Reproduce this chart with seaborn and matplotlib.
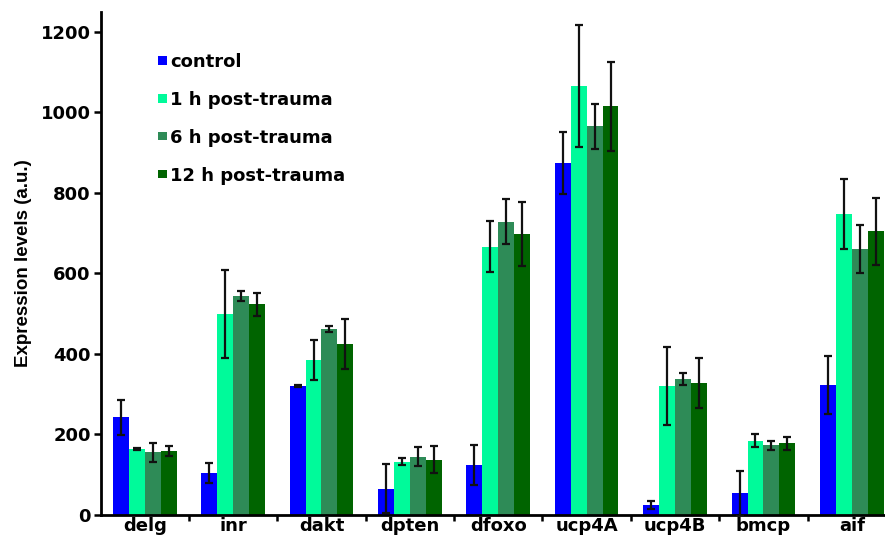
import numpy as np
import pandas as pd
import matplotlib
matplotlib.use("Agg")
import matplotlib.pyplot as plt
import seaborn as sns
from matplotlib.patches import Patch

genes = ["delg", "inr", "dakt", "dpten", "dfoxo", "ucp4A", "ucp4B", "bmcp", "aif"]
conditions = ["control", "1 h post-trauma", "6 h post-trauma", "12 h post-trauma"]
colors = ["#0000FF", "#00FA9A", "#2E8B57", "#006400"]

control = [242, 104, 320, 65, 123, 875, 24, 53, 322]
h1 = [163, 499, 385, 132, 666, 1066, 319, 184, 747]
h6 = [155, 544, 461, 144, 728, 965, 337, 173, 660]
h12 = [159, 523, 424, 137, 697, 1015, 327, 177, 704]

control_err = [44, 24, 2, 60, 50, 77, 10, 55, 72]
h1_err = [3, 110, 50, 9, 63, 152, 97, 16, 87]
h6_err = [24, 12, 7, 23, 56, 56, 14, 11, 60]
h12_err = [12, 28, 62, 33, 79, 111, 62, 17, 84]

means = [control, h1, h6, h12]
errs = [control_err, h1_err, h6_err, h12_err]

df = pd.DataFrame({
    "gene": np.tile(genes, len(conditions)),
    "condition": np.repeat(conditions, len(genes)),
    "value": np.concatenate(means),
    "err": np.concatenate(errs),
})

sns.set_style("white")
plt.rcParams["font.family"] = ["DejaVu Sans"]
plt.rcParams["font.weight"] = "bold"
for key in ["text.color", "axes.labelcolor", "xtick.color", "ytick.color",
            "xtick.labelcolor", "ytick.labelcolor"]:
    plt.rcParams[key] = "black"

fig = plt.figure(figsize=(8.85, 5.35), dpi=100)
W, H = 885, 535
x0, x1 = 100.5, 896.0
y0, y1 = 514.7, 11.7
ax = fig.add_axes([x0 / W, (H - y0) / H, (x1 - x0) / W, (y0 - y1) / H])

sns.barplot(data=df, x="gene", y="value", hue="condition", order=genes,
            hue_order=conditions, palette=colors, errorbar=None,
            width=0.72, saturation=1, linewidth=0, ax=ax, legend=False)

# error bars centred on each bar (patches are ordered by hue, then gene)
bars = list(ax.patches)
k = 0
for ci, cond in enumerate(conditions):
    for gi, g in enumerate(genes):
        p = bars[k]
        k += 1
        xc = p.get_x() + p.get_width() / 2
        ax.errorbar(xc, means[ci][gi], yerr=errs[ci][gi], fmt="none",
                    ecolor="#111111", elinewidth=1.6, capsize=2.6,
                    capthick=1.6, zorder=5)

ax.set_xlim(-0.5, len(genes) - 0.5)
ax.set_ylim(0, 1250)
ax.set_yticks([0, 200, 400, 600, 800, 1000, 1200])
ax.set_xlabel("")
ax.set_ylabel("Expression levels (a.u.)", fontsize=13.5, fontweight="bold",
              family="Liberation Sans", color="black", labelpad=6)

for s in ["top", "right"]:
    ax.spines[s].set_visible(False)
for s in ["left", "bottom"]:
    ax.spines[s].set_color("black")
    ax.spines[s].set_linewidth(2)

ax.tick_params(axis="y", which="major", direction="out", length=5, width=1.8,
               labelsize=13, left=True, pad=2, colors="black")
ax.tick_params(axis="x", which="major", length=0, labelsize=13, pad=2, colors="black")
ax.set_xticks(np.arange(0.5, len(genes) - 0.5, 1), minor=True)
ax.tick_params(axis="x", which="minor", direction="out", length=4, width=1.8,
               bottom=True, colors="black")
for lab in ax.get_xticklabels() + ax.get_yticklabels():
    lab.set_fontweight("bold")

handles = [Patch(facecolor=c, edgecolor="none") for c in colors]
leg = ax.legend(handles, conditions, loc="upper left", bbox_to_anchor=(0.072, 0.918),
                frameon=False, fontsize=13, handlelength=0.5, handleheight=0.35,
                handletextpad=0.2, labelspacing=1.1, borderaxespad=0, borderpad=0)
for t in leg.get_texts():
    t.set_fontweight("bold")
    t.set_color("black")

fig.savefig("out.png", dpi=100)
